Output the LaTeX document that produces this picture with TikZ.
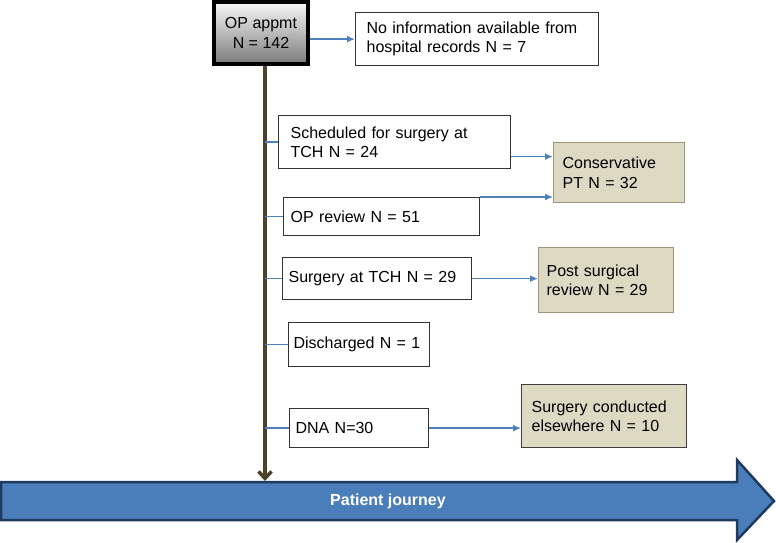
\documentclass[tikz,border=0pt]{standalone}
\usepackage{fontspec}
\setmainfont{Liberation Sans}
\usetikzlibrary{arrows.meta, positioning}

\definecolor{linkblue}{HTML}{4F81BD}
\definecolor{spinecol}{HTML}{494429}
\definecolor{tanfill}{HTML}{DDD9C3}
\definecolor{tanline}{HTML}{9C9478}
\definecolor{journeyfill}{HTML}{4A7EBB}
\definecolor{journeyline}{HTML}{1F3A5F}

\tikzset{
  stage/.style={draw=black!80, line width=1.2pt, fill=white, align=left,
    anchor=north west, inner ysep=0pt, font=\fontsize{16}{19.5}\selectfont},
  outcome/.style={stage, draw=tanline, fill=tanfill},
  link/.style={draw=linkblue, line width=1.4pt},
  flow/.style={link, -{Latex[length=8pt,width=7pt]}},
  spine/.style={draw=spinecol, line width=3.5pt, -{Straight Barb[length=7pt,width=13pt]}},
}

\begin{document}
\begin{tikzpicture}[x=1pt, y=-1pt]
    \useasboundingbox (0,0) rectangle (776,542);

    % start box
    \node[draw=black, line width=4pt, top color=black!3, bottom color=black!52,
          minimum width=94pt, minimum height=62pt, align=center,
          font=\fontsize{16}{20}\selectfont] (op) at (261,33) {OP appmt\\N = 142};

    % first split
    \node[stage, inner xsep=11pt, text width=221pt, minimum height=53pt] (noinfo) at (355,12)
        {No information available from\\hospital records N = 7};
    \node[stage, inner xsep=12pt, text width=208pt, minimum height=53pt] (sched) at (278,115)
        {Scheduled for surgery at\\TCH N = 24};
    \node[stage, inner xsep=7pt, text width=182pt, minimum height=38pt] (review) at (283,197)
        {OP review N = 51};
    \node[stage, inner xsep=6pt, text width=177pt, minimum height=42pt] (surgery) at (282,257)
        {Surgery at TCH N = 29};
    \node[stage, inner xsep=5pt, text width=131pt, minimum height=44pt] (discharged) at (288,322)
        {Discharged N = 1};
    \node[stage, inner xsep=6pt, text width=127pt, minimum height=39pt] (dna) at (289,408)
        {DNA N=30};

    % outcomes
    \node[outcome, inner xsep=9pt, text width=113pt, minimum height=60pt] (conserv) at (553,142)
        {Conservative\\PT N = 32};
    \node[outcome, inner xsep=8pt, text width=119pt, minimum height=65pt] (postsurg) at (538,247)
        {Post surgical\\review N = 29};
    \node[outcome, draw=black!75, inner xsep=10pt, text width=145pt, minimum height=63pt] (elsewhere) at (521,384)
        {Surgery conducted\\elsewhere N = 10};

    % patient journey arrow
    \draw[journeyline, line width=2.5pt, fill=journeyfill]
        (1,482) -- (737,482) -- (737,460) -- (774,501) -- (737,540) -- (737,520) -- (1,520) -- cycle;
    \node[text=white, font=\bfseries\fontsize{16}{19}\selectfont] (journey) at (388,501) {Patient journey};
    \coordinate (top) at ([xshift=4pt]op.south);
    \coordinate (bottom) at (265,481);

    % connectors
    \draw[spine] (top) -- (bottom);
    \foreach \n in {sched, review, surgery, discharged, dna}
        \draw[link] (top |- \n.west) -- (\n.west);
    \draw[flow] (op.east |- noinfo.west) -- (noinfo.west);
    \draw[flow] ([yshift=-14.5pt]sched.east) -- ([yshift=-14.5pt]sched.east -| conserv.west);
    \draw[flow] (review.north east) -- (review.north east -| conserv.west);
    \draw[flow] (surgery.east) -- (surgery.east -| postsurg.west);
    \draw[flow] (dna.east) -- (dna.east -| elsewhere.west);
\end{tikzpicture}
\end{document}
